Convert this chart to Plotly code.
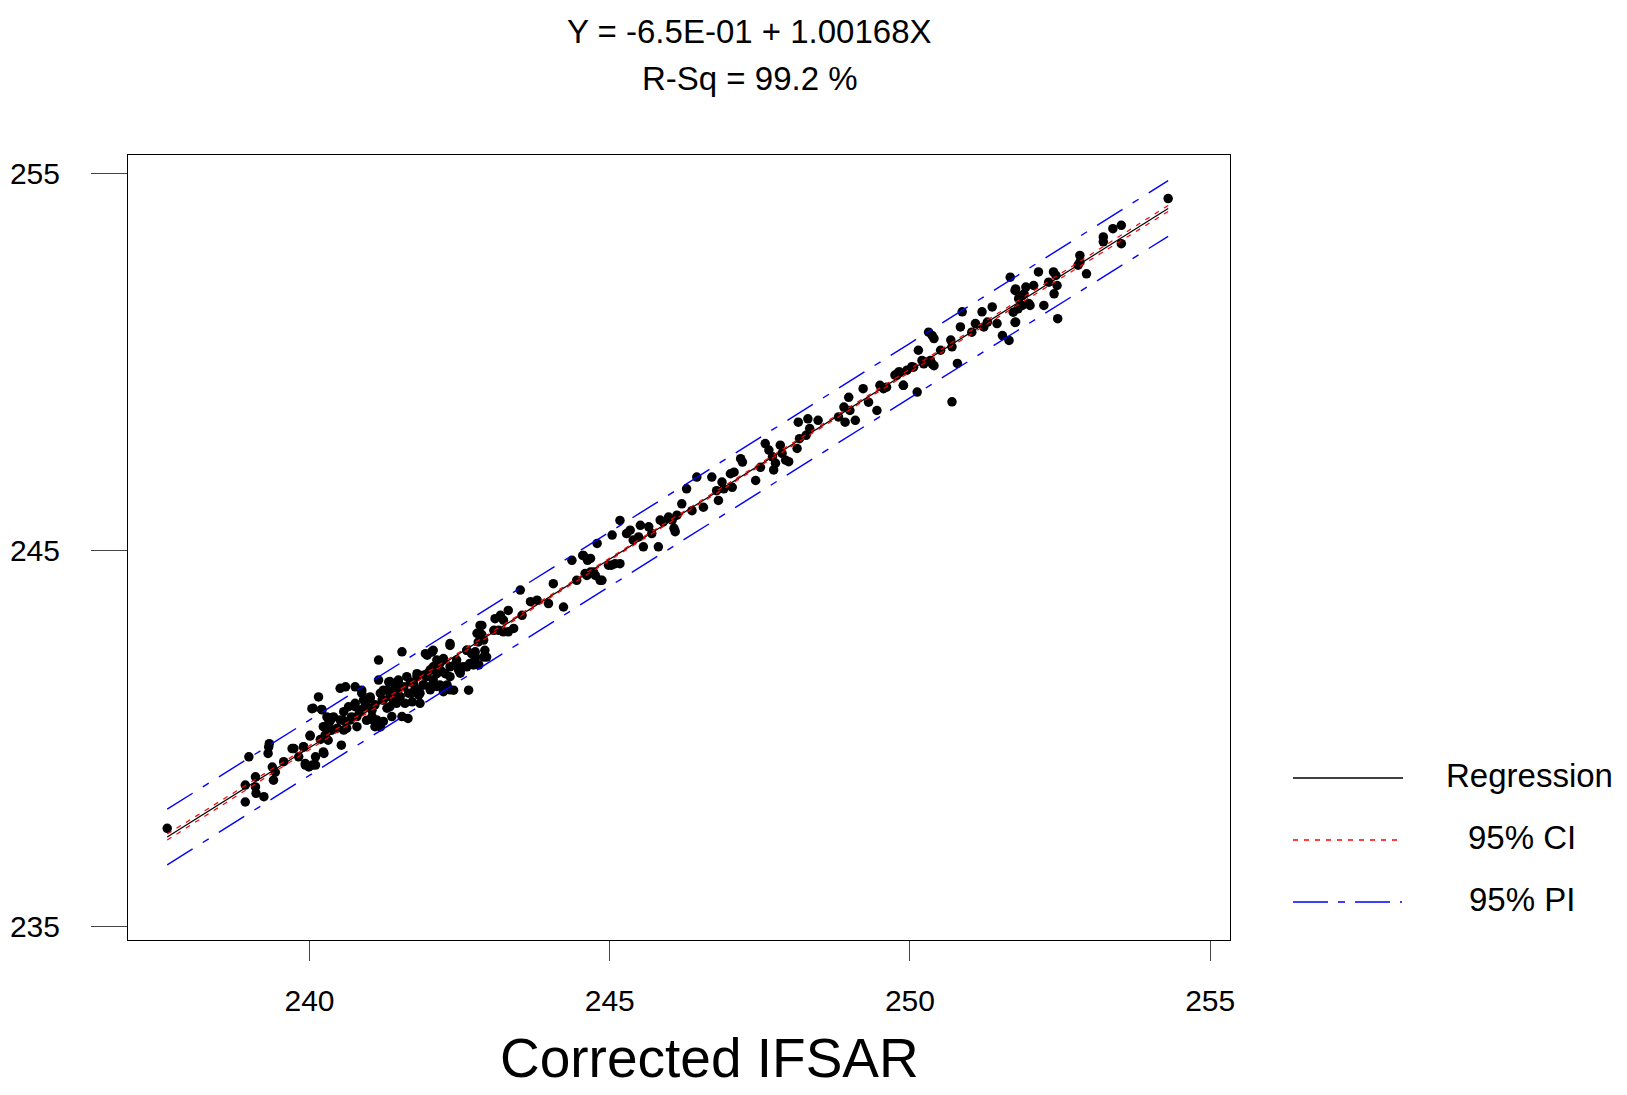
import plotly.graph_objects as go
import numpy as np

# ---------------- data ----------------
x_pts = [
237.63,238.99,238.93,238.93,239.10,239.10,239.11,239.24,239.32,239.33,239.31,239.38,239.43,239.40,239.57,
239.71,239.82,239.90,239.93,239.99,240.05,240.01,240.10,240.15,240.06,240.21,240.18,240.24,240.27,240.32,
239.74,239.90,239.93,240.01,240.04,240.10,240.20,240.23,240.23,240.29,240.31,240.35,240.37,240.51,240.53,
240.56,240.57,240.65,240.70,240.76,240.76,240.79,240.84,240.87,240.92,240.95,241.01,241.04,241.06,241.09,
241.15,241.15,241.18,241.21,241.23,241.29,241.32,241.34,241.37,241.40,241.45,241.48,241.54,241.54,241.59,
241.62,241.64,241.70,241.73,241.79,241.82,241.84,241.89,241.93,241.96,242.01,242.04,242.06,242.12,242.14,
242.23,242.26,242.29,242.34,242.34,242.42,242.48,242.56,242.65,242.76,242.79,
240.32,240.40,240.51,240.57,240.35,240.26,240.46,240.62,240.68,240.76,240.79,240.84,240.90,240.96,241.01,
241.04,241.12,241.09,241.18,241.23,241.29,241.34,241.40,241.46,241.48,241.34,241.18,241.23,240.60,240.87,
241.96,242.04,242.17,242.23,242.34,242.45,242.51,242.62,242.67,242.76,242.81,242.84,242.87,242.73,242.90,
242.01,241.90,241.79,241.68,241.57,241.46,241.65,241.76,241.84,241.90,242.06,242.12,242.01,241.51,241.40,
241.71,
244.79,244.37,244.55,244.63,244.68,244.62,244.73,244.87,245.03,244.06,244.23,243.98,243.79,243.68,243.51,
243.54,243.31,243.18,243.09,243.23,243.40,243.31,243.23,243.15,243.07,242.84,242.87,242.90,242.34,242.06,
242.62,242.70,242.76,242.92,242.95,242.82,242.62,242.45,242.51,242.34,242.20,242.12,242.06,241.95,242.00,
242.17,242.23,242.40,
244.56,244.59,244.68,244.45,244.76,244.84,244.98,245.09,245.17,245.04,245.17,245.28,245.34,245.39,245.51,
245.48,245.56,245.65,245.70,245.81,245.84,245.89,245.98,246.04,246.07,246.09,246.12,246.20,246.37,246.56,
246.81,246.78,246.28,246.45,246.70,246.87,246.90,247.01,247.04,247.07,247.18,247.21,247.43,
247.51,247.59,247.65,247.71,247.76,247.73,247.84,247.87,247.93,247.98,248.12,248.14,248.16,248.27,248.30,
248.33,248.47,248.81,248.92,248.90,248.98,249.00,249.09,249.22,249.31,249.45,249.50,249.56,249.61,249.75,
249.81,249.89,249.95,250.03,250.12,250.23,250.37,250.70,
249.78,249.83,249.89,250.06,250.14,250.20,250.26,250.31,250.37,250.40,250.34,250.40,250.51,250.68,250.70,
250.79,250.84,250.87,251.03,251.09,251.20,251.23,251.29,251.37,251.45,251.54,251.65,251.67,251.76,251.76,
251.81,251.87,251.90,251.93,251.98,252.06,252.14,252.23,252.31,252.40,252.43,252.46,
251.75,251.87,251.72,251.80,252.00,251.75,252.39,252.45,252.80,252.83,252.83,252.94,253.22,253.22,253.38,
253.52,253.52,254.30,
]
y_pts = [
237.61,239.51,238.76,238.31,238.98,238.71,238.54,238.45,239.77,239.86,239.60,239.24,239.10,238.89,239.38,
239.73,239.51,239.77,239.29,239.24,239.29,240.06,239.51,241.10,240.80,240.76,239.97,239.60,240.32,240.55,
239.73,239.78,239.33,240.08,240.79,239.29,240.77,240.31,239.64,240.57,239.95,240.48,240.22,241.33,239.82,
240.48,240.22,240.84,240.57,241.37,240.93,240.31,240.71,241.20,240.84,240.48,241.06,240.75,240.49,240.31,
242.08,241.55,240.31,241.02,241.28,240.80,241.50,241.11,240.58,241.29,240.93,241.46,242.30,240.58,240.93,
241.64,240.53,241.20,241.46,241.72,241.15,240.93,241.42,242.25,241.72,241.29,242.30,241.86,241.38,241.99,
242.12,241.72,241.42,242.47,241.29,241.95,241.82,241.90,241.28,242.17,242.79,
240.40,240.57,240.49,240.71,240.22,240.09,240.27,240.27,240.49,240.84,240.58,240.75,241.02,240.84,241.10,
240.58,240.49,240.89,241.20,241.02,241.28,240.84,241.06,241.33,241.55,241.51,240.31,240.45,241.37,241.28,
242.21,242.30,241.99,242.08,241.90,242.08,241.81,242.34,241.99,242.30,242.56,242.78,243.00,241.95,242.16,
241.82,241.68,241.64,241.50,241.37,241.46,241.20,241.33,241.20,241.42,241.55,241.72,241.33,241.11,240.97,
240.97,
245.18,244.73,244.86,244.73,244.78,244.33,244.42,244.20,244.60,244.11,243.49,243.58,243.67,243.63,243.94,
243.27,243.40,243.27,243.18,243.14,242.92,242.83,242.83,242.87,242.87,243.00,242.75,242.61,242.52,242.34,
242.34,242.25,242.12,242.34,242.16,241.95,241.90,241.95,241.73,241.64,241.78,242.08,241.90,241.64,241.37,
241.42,241.24,241.28,
244.86,244.38,244.42,244.20,244.33,244.20,244.60,244.64,244.64,245.40,245.79,245.44,245.53,245.27,245.66,
245.35,245.09,245.62,245.44,245.09,245.80,245.75,245.88,245.80,245.58,245.49,245.93,246.23,246.05,246.14,
246.32,246.58,246.63,246.94,246.94,246.81,246.63,247.03,246.67,247.07,247.43,247.34,246.85,
247.20,247.83,247.66,247.48,247.31,247.13,247.79,247.57,247.39,247.35,247.70,248.40,247.96,248.05,248.49,
248.23,248.45,248.54,248.40,248.80,249.06,248.71,248.45,249.29,248.93,248.71,249.38,249.29,249.33,249.65,
249.73,249.38,249.78,249.87,249.20,249.95,249.95,248.94,
249.64,249.73,249.38,249.86,250.31,250.04,250.00,250.79,250.70,250.62,250.04,249.90,250.31,250.58,250.40,
249.96,250.93,251.33,250.79,251.02,251.33,250.93,251.06,251.46,251.02,250.70,250.57,252.25,251.94,251.06,
251.68,251.50,251.81,251.99,251.55,252.03,252.39,251.50,252.12,251.81,252.30,251.15,
251.90,251.76,251.32,251.41,251.50,251.05,252.39,252.03,252.57,252.83,252.65,252.34,253.32,253.19,253.54,
253.63,253.14,254.34,
]

# regression (from the title) and band half-widths
reg_intercept = -0.65
reg_slope = 1.00168
band_x = [237.63, 241.0, 245.5, 250.0, 254.30]
ci_half = [0.08, 0.04, 0.03, 0.04, 0.08]
pi_half = [0.74, 0.725, 0.72, 0.725, 0.74]

title_lines = ["Y = -6.5E-01 + 1.00168X", "R-Sq = 99.2 %"]
x_title = "Corrected IFSAR"
x_ticks = [240, 245, 250, 255]
y_ticks = [235, 245, 255]
legend_labels = ["Regression", "95% CI", "95% PI"]

# ---------------- figure ----------------
FONT = "Arial, Liberation Sans, sans-serif"
bx = np.array(band_x)
fit = reg_intercept + reg_slope * bx

fig = go.Figure()
fig.add_trace(go.Scatter(x=x_pts, y=y_pts, mode="markers",
                         marker=dict(color="black", size=9.5), showlegend=False))
fig.add_trace(go.Scatter(x=bx, y=fit, mode="lines",
                         line=dict(color="black", width=1.2), showlegend=False))
for sgn in (1, -1):
    fig.add_trace(go.Scatter(x=bx, y=fit + sgn * np.array(ci_half), mode="lines",
                             line=dict(color="red", width=1.2, dash="5px,6px"), showlegend=False))
    fig.add_trace(go.Scatter(x=bx, y=fit + sgn * np.array(pi_half), mode="lines",
                             line=dict(color="blue", width=1.4, dash="30px,12px,7px,12px"),
                             showlegend=False))

L, R, T, B = 128, 397, 155, 155
W, H = 1627, 1095
pw = W - L - R
ph = H - T - B

def px(fx):
    return (fx - L) / pw

def py(fy):
    return (H - B - fy) / ph

fig.update_layout(
    width=W, height=H,
    margin=dict(l=L, r=R, t=T, b=B, autoexpand=False),
    paper_bgcolor="white", plot_bgcolor="white",
    font=dict(family=FONT, color="black"),
    showlegend=False,
)
fig.update_xaxes(range=[236.977, 255.33], tickvals=x_ticks, ticks="outside", ticklen=20,
                 tickcolor="#444", tickwidth=1, showgrid=False, zeroline=False,
                 showline=True, linecolor="black", linewidth=1, mirror=True, automargin=False,
                 tickfont=dict(size=30, family=FONT), ticklabelstandoff=14)
fig.update_yaxes(range=[234.644, 255.497], tickvals=y_ticks, ticks="outside", ticklen=36,
                 tickcolor="#444", tickwidth=1, showgrid=False, zeroline=False,
                 showline=True, linecolor="black", linewidth=1, mirror=True, automargin=False,
                 tickfont=dict(size=30, family=FONT), ticklabelstandoff=25)

ann = []
for txt, fy in zip(title_lines, [31, 78]):
    ann.append(dict(text=txt, x=px(750), y=py(fy), xref="paper", yref="paper",
                    xanchor="center", yanchor="middle", showarrow=False,
                    font=dict(size=33, family=FONT)))
ann.append(dict(text=x_title, x=px(709), y=py(1058), xref="paper", yref="paper",
                xanchor="center", yanchor="middle", showarrow=False,
                font=dict(size=55, family=FONT)))

styles = [dict(color="black", width=1.5, dash="solid"),
          dict(color="red", width=1.5, dash="5px,6px"),
          dict(color="blue", width=1.5, dash="35px,10px,7px,10px,35px,10px,2px,10px")]
shapes = []
for lab, fy, st, tx in zip(legend_labels, [778, 840, 902], styles, [1529, 1522, 1522]):
    shapes.append(dict(type="line", xref="paper", yref="paper",
                       x0=px(1293), x1=px(1403), y0=py(fy), y1=py(fy), line=st))
    ann.append(dict(text=lab, x=px(tx), y=py(fy - 3), xref="paper", yref="paper",
                    xanchor="center", yanchor="middle", showarrow=False,
                    font=dict(size=33, family=FONT)))
fig.update_layout(annotations=ann, shapes=shapes)

fig.write_html("out.html")
